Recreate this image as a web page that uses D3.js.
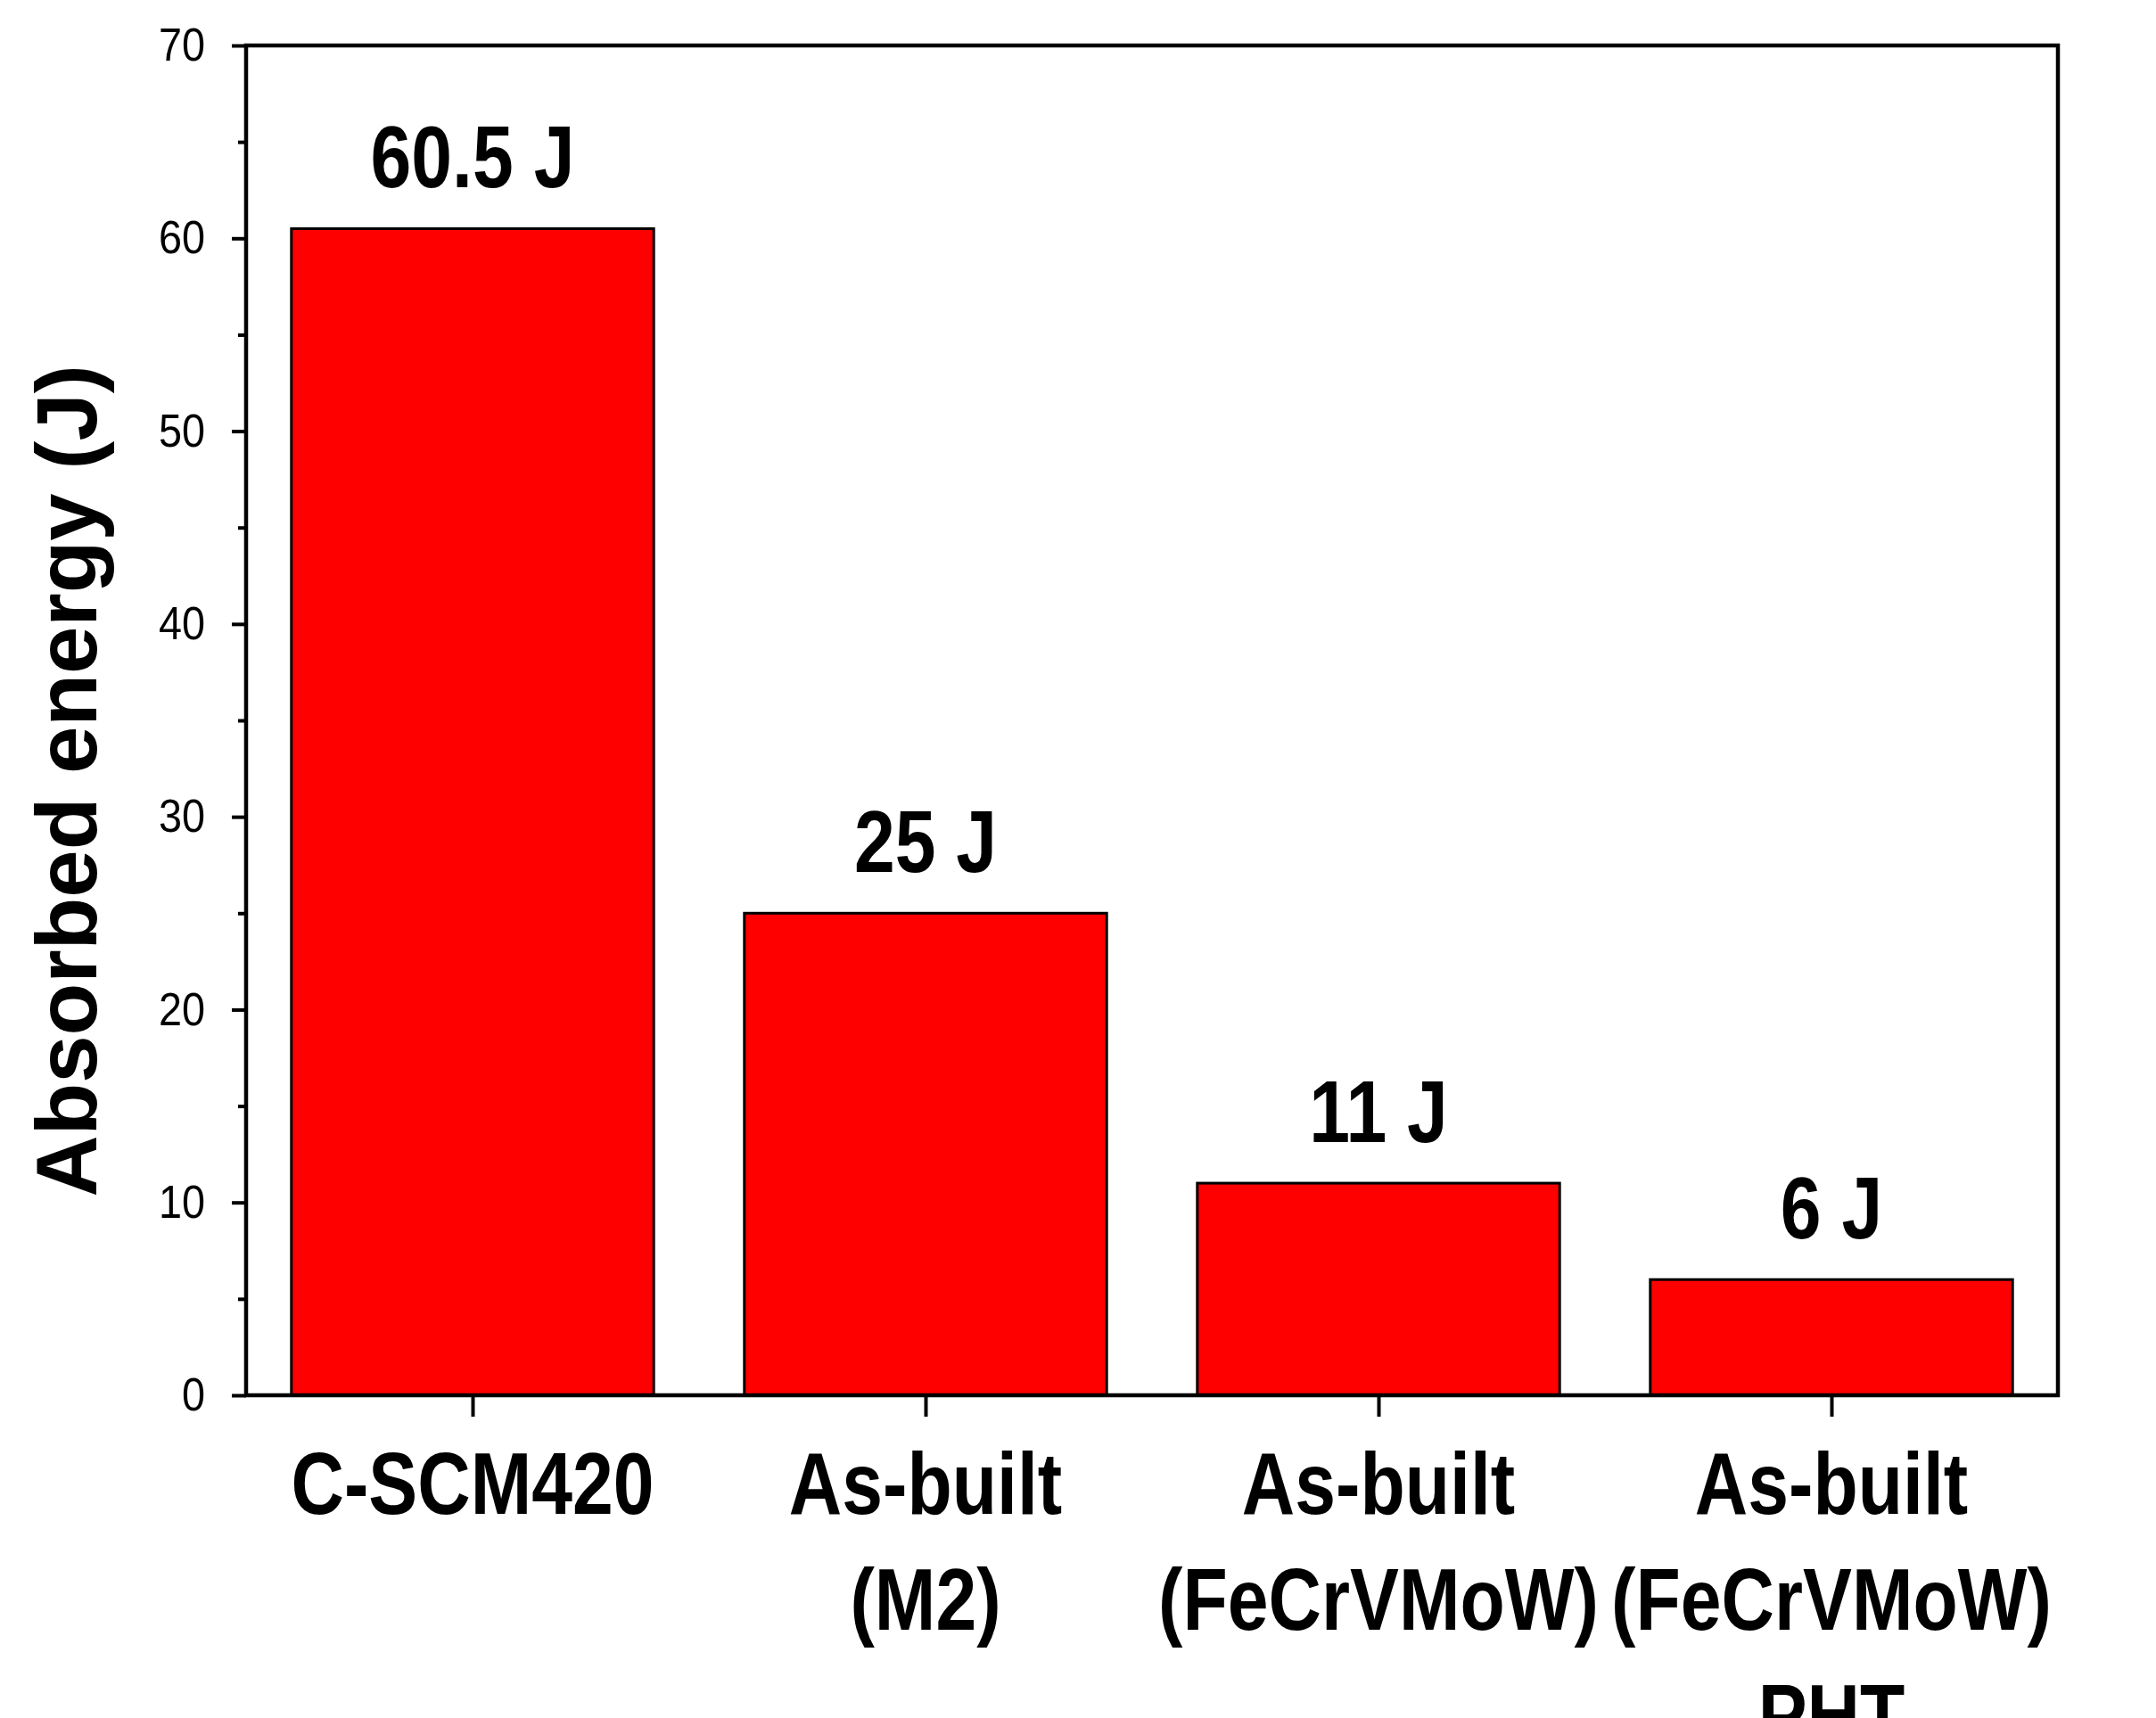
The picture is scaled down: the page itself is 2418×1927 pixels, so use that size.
<!DOCTYPE html>
<html><head><meta charset="utf-8">
<script src="https://cdn.jsdelivr.net/npm/d3@7"></script>
<style>body{margin:0;background:#fff}</style></head>
<body><svg id="c" width="2418" height="1927"></svg>
<script>
const categories = [["C-SCM420"],["As-built","(M2)"],["As-built","(FeCrVMoW)"],["As-built","(FeCrVMoW)","PHT"]];
const values = [60.5, 25, 11, 6];
const valueLabels = ["60.5 J","25 J","11 J","6 J"];
const yTicks = [0,10,20,30,40,50,60,70];

const svg = d3.select("#c");
const L=276,R=2308,T=51,B=1565;
const x = d3.scaleBand().domain(d3.range(values.length)).range([L,R]).paddingInner(0.2).paddingOuter(0.1);
const y = d3.scaleLinear().domain([0,70]).range([B,T]);
const font = "'Liberation Sans',Arial,sans-serif";
const SX = 0.84;

svg.selectAll("rect.bar").data(values).join("rect")
  .attr("x",(d,i)=>x(i)).attr("width",x.bandwidth())
  .attr("y",d=>y(d)).attr("height",d=>B-y(d))
  .attr("fill","#ff0000").attr("stroke","#000").attr("stroke-width",3);

svg.append("rect").attr("x",L).attr("y",T).attr("width",R-L).attr("height",B-T)
  .attr("fill","none").attr("stroke","#000").attr("stroke-width",4.5);

const ya = svg.append("g").attr("transform",`translate(${L},0)`)
  .call(d3.axisLeft(y).tickValues(yTicks).tickSize(16).tickPadding(8).tickFormat(d3.format("d")));
ya.select(".domain").remove();
ya.selectAll("line").attr("stroke-width",4);
ya.selectAll("text").attr("font-family",font).attr("font-size",52).attr("fill","#000")
  .attr("transform","translate(-22,0) scale(0.9,1)").attr("x",-24/0.9);
const ym = svg.append("g").attr("transform",`translate(${L},0)`)
  .call(d3.axisLeft(y).tickValues(d3.range(5,70,10)).tickSize(9).tickFormat(""));
ym.select(".domain").remove();
ym.selectAll("line").attr("stroke-width",4);

const xa = svg.append("g").attr("transform",`translate(0,${B})`)
  .call(d3.axisBottom(d3.scalePoint().domain(d3.range(values.length)).range([x(0)+x.bandwidth()/2, x(3)+x.bandwidth()/2])).tickSize(24).tickFormat(""));
xa.select(".domain").remove();
xa.selectAll("line").attr("stroke-width",4);

categories.forEach((lines,i)=>{
  const cx = x(i)+x.bandwidth()/2;
  lines.forEach((s,k)=>svg.append("text").attr("text-anchor","middle").attr("font-family",font)
    .attr("font-weight","bold").attr("font-size",98).attr("fill","#000")
    .attr("transform",`translate(${cx},${1698+k*130}) scale(${SX},1)`).text(s));
});

svg.selectAll("text.val").data(values).join("text")
  .attr("transform",(d,i)=>`translate(${x(i)+x.bandwidth()/2},${y(d)-46}) scale(${SX},1)`)
  .attr("text-anchor","middle").attr("font-family",font).attr("font-weight","bold")
  .attr("font-size",98).attr("fill","#000").text((d,i)=>valueLabels[i]);

svg.append("text").attr("transform",`translate(108,${(T+B)/2+68}) rotate(-90)`)
  .attr("text-anchor","middle").attr("font-family",font)
  .attr("font-weight","bold").attr("font-size",96).attr("fill","#000").text("Absorbed energy (J)");
</script></body></html>
